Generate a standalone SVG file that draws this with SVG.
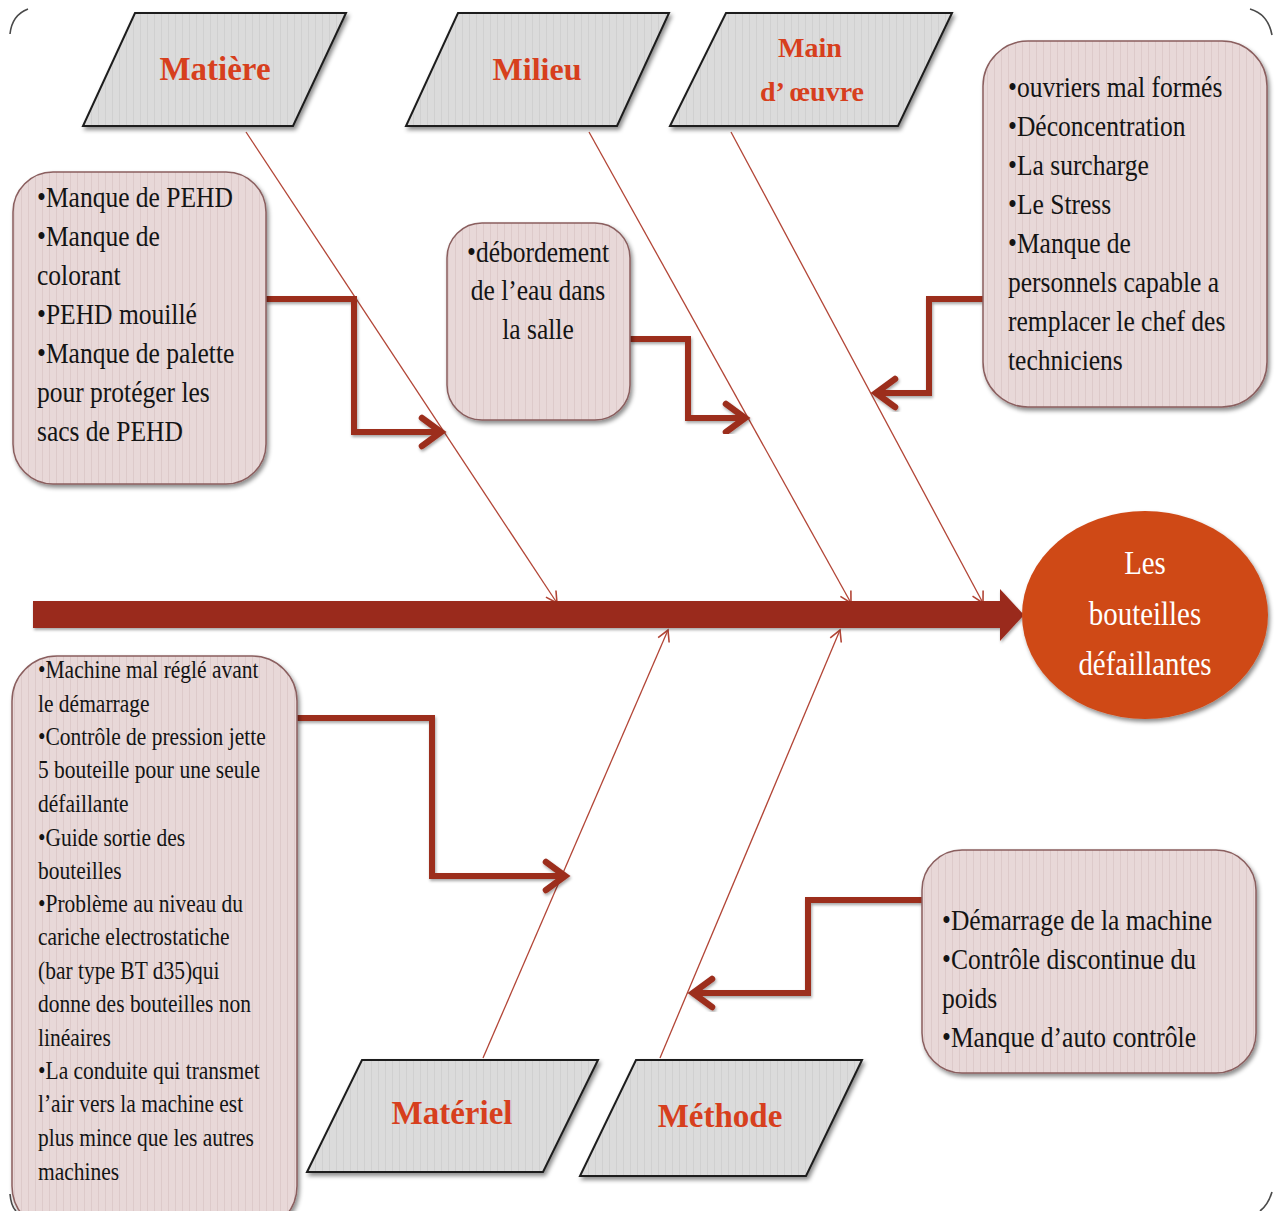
<svg xmlns="http://www.w3.org/2000/svg" width="1276" height="1211" viewBox="0 0 1276 1211">
<style>
.para{stroke:#1e1e1e;stroke-width:2;fill:url(#grayStripe);filter:url(#shadow)}
.box{stroke:#8a5e5e;stroke-width:1.5;fill:url(#pinkStripe);filter:url(#shadow)}
.ptxt{font-family:"Liberation Serif",serif;font-weight:bold;fill:#d73f1d;text-anchor:middle}
.btxt{font-family:"Liberation Serif",serif;fill:#141414}
.thin{stroke:#b24536;stroke-width:1.3;fill:none;marker-end:url(#thinArrow)}
.thick{stroke:#9c2e1f;stroke-width:6;fill:none;stroke-linejoin:miter;marker-end:url(#thickArrow);filter:url(#lshadow)}
.frame{stroke:#4a4a4a;stroke-width:1.6;fill:none}
.etxt{font-family:"Liberation Serif",serif;fill:#ffffff;text-anchor:middle}
</style>
<defs>
<pattern id="grayStripe" patternUnits="userSpaceOnUse" width="7" height="10">
<rect width="7" height="10" fill="#dbdbdb"/>
<rect x="0" width="1" height="10" fill="#d0d0d0"/>
</pattern>
<pattern id="pinkStripe" patternUnits="userSpaceOnUse" width="7" height="10">
<rect width="7" height="10" fill="#e8d8d8"/>
<rect x="0" width="1" height="10" fill="#ddcaca"/>
</pattern>
<filter id="shadow" x="-10%" y="-10%" width="125%" height="125%">
<feDropShadow dx="2" dy="3" stdDeviation="2" flood-color="#000" flood-opacity="0.45"/>
</filter>
<filter id="lshadow" x="-10%" y="-10%" width="130%" height="130%">
<feDropShadow dx="1" dy="2" stdDeviation="1.5" flood-color="#000" flood-opacity="0.35"/>
</filter>
<marker id="thinArrow" markerUnits="userSpaceOnUse" markerWidth="20" markerHeight="20" viewBox="-14 -10 20 20" refX="0" refY="0" orient="auto">
<path d="M-11,-6 L0,0 L-11,6" fill="none" stroke="#b24536" stroke-width="1.6"/>
</marker>
<marker id="thickArrow" markerUnits="userSpaceOnUse" markerWidth="40" markerHeight="40" viewBox="-30 -20 40 40" refX="0" refY="0" orient="auto">
<path d="M-20,-14 L-1,0 L-20,14" fill="none" stroke="#9c2e1f" stroke-width="6.5" stroke-linecap="round" stroke-linejoin="miter"/>
</marker>
</defs>

<g id="frame">
<path class="frame" d="M10,34 Q12,15 28,9"/>
<path class="frame" d="M1250,9 Q1268,14 1272,35"/>
<path class="frame" d="M10,1194 Q11,1206 16,1211"/>
<path class="frame" d="M1272,1192 Q1268,1205 1260,1211"/>
</g>

<g id="connectors">
<path class="thin" d="M246,132 L557,603"/>
<path class="thin" d="M589,132 L851,603"/>
<path class="thin" d="M731,132 L983,603"/>
<path class="thin" d="M483,1058 L668,630"/>
<path class="thin" d="M660,1058 L840,630"/>
<path class="thick" d="M266,299 L354,299 L354,432 L442,432"/>
<path class="thick" d="M630,339 L688,339 L688,418 L746,418"/>
<path class="thick" d="M983,299 L929,299 L929,393 L875,393"/>
<path class="thick" d="M297,718 L432,718 L432,876 L566,876"/>
<path class="thick" d="M922,900 L808,900 L808,993 L692,993"/>
</g>

<g id="spine">
<polygon points="33,601 1000,601 1000,589 1024,615 1000,641 1000,628 33,628" fill="#9a2b1e" filter="url(#lshadow)"/>
</g>

<g id="effect">
<ellipse cx="1145" cy="615" rx="123" ry="104" fill="#cf4a19" filter="url(#shadow)"/>
<g transform="translate(1145,0) scale(0.85,1)">
<text class="etxt" x="0" y="574" font-size="34">Les</text>
<text class="etxt" x="0" y="625" font-size="34">bouteilles</text>
<text class="etxt" x="0" y="675" font-size="34">défaillantes</text>
</g>
</g>

<g id="matiere">
<polygon class="para" points="135,13 346,13 293,126 83,126"/>
<text class="ptxt" x="215" y="80" font-size="33">Matière</text>
</g>
<g id="milieu">
<polygon class="para" points="458,13 669,13 617,126 406,126"/>
<text class="ptxt" x="537" y="80" font-size="32">Milieu</text>
</g>
<g id="main-oeuvre">
<polygon class="para" points="726,13 952,13 898,126 670,126"/>
<text class="ptxt" x="810" y="57" font-size="28">Main</text>
<text class="ptxt" x="812" y="101" font-size="28">d’ œuvre</text>
</g>
<g id="materiel">
<polygon class="para" points="362,1060 598,1060 543,1172 307,1172"/>
<text class="ptxt" x="452" y="1124" font-size="33">Matériel</text>
</g>
<g id="methode">
<polygon class="para" points="636,1060 862,1060 806,1176 580,1176"/>
<text class="ptxt" x="720" y="1127" font-size="33">Méthode</text>
</g>

<g id="box-matiere">
<rect class="box" x="13" y="172" width="253" height="312" rx="40"/>
<g transform="translate(37,0) scale(0.88,1)">
<text class="btxt" x="0" y="207" font-size="29">•Manque de PEHD</text>
<text class="btxt" x="0" y="246" font-size="29">•Manque de</text>
<text class="btxt" x="0" y="285" font-size="29">colorant</text>
<text class="btxt" x="0" y="324" font-size="29">•PEHD mouillé</text>
<text class="btxt" x="0" y="363" font-size="29">•Manque de palette</text>
<text class="btxt" x="0" y="402" font-size="29">pour protéger les</text>
<text class="btxt" x="0" y="441" font-size="29">sacs de PEHD</text>
</g>
</g>

<g id="box-milieu">
<rect class="box" x="447" y="223" width="183" height="197" rx="35"/>
<g transform="translate(538,0) scale(0.88,1)">
<text class="btxt" x="0" y="262" font-size="29" text-anchor="middle">•débordement</text>
<text class="btxt" x="0" y="300" font-size="29" text-anchor="middle">de l’eau dans</text>
<text class="btxt" x="0" y="339" font-size="29" text-anchor="middle">la salle</text>
</g>
</g>

<g id="box-main-oeuvre">
<rect class="box" x="983" y="41" width="284" height="366" rx="45"/>
<g transform="translate(1008,0) scale(0.88,1)">
<text class="btxt" x="0" y="97" font-size="29">•ouvriers mal formés</text>
<text class="btxt" x="0" y="136" font-size="29">•Déconcentration</text>
<text class="btxt" x="0" y="175" font-size="29">•La surcharge</text>
<text class="btxt" x="0" y="214" font-size="29">•Le Stress</text>
<text class="btxt" x="0" y="253" font-size="29">•Manque de</text>
<text class="btxt" x="0" y="292" font-size="29">personnels capable a</text>
<text class="btxt" x="0" y="331" font-size="29">remplacer le chef des</text>
<text class="btxt" x="0" y="370" font-size="29">techniciens</text>
</g>
</g>

<g id="box-materiel">
<rect class="box" x="12" y="656" width="285" height="575" rx="45"/>
<g transform="translate(38,0) scale(0.86,1)">
<text class="btxt" x="0" y="678" font-size="25">•Machine mal réglé avant</text>
<text class="btxt" x="0" y="712" font-size="25">le démarrage</text>
<text class="btxt" x="0" y="745" font-size="25">•Contrôle de pression jette</text>
<text class="btxt" x="0" y="778" font-size="25">5 bouteille pour une seule</text>
<text class="btxt" x="0" y="812" font-size="25">défaillante</text>
<text class="btxt" x="0" y="846" font-size="25">•Guide sortie des</text>
<text class="btxt" x="0" y="879" font-size="25">bouteilles</text>
<text class="btxt" x="0" y="912" font-size="25">•Problème au niveau du</text>
<text class="btxt" x="0" y="945" font-size="25">cariche electrostatiche</text>
<text class="btxt" x="0" y="979" font-size="25">(bar type BT  d35)qui</text>
<text class="btxt" x="0" y="1012" font-size="25">donne des bouteilles  non</text>
<text class="btxt" x="0" y="1046" font-size="25">linéaires</text>
<text class="btxt" x="0" y="1079" font-size="25">•La conduite qui transmet</text>
<text class="btxt" x="0" y="1112" font-size="25">l’air vers la machine  est</text>
<text class="btxt" x="0" y="1146" font-size="25">plus mince  que  les autres</text>
<text class="btxt" x="0" y="1180" font-size="25">machines</text>
</g>
</g>

<g id="box-methode">
<rect class="box" x="922" y="850" width="334" height="223" rx="40"/>
<g transform="translate(942,0) scale(0.88,1)">
<text class="btxt" x="0" y="930" font-size="29">•Démarrage de la machine</text>
<text class="btxt" x="0" y="969" font-size="29">•Contrôle discontinue du</text>
<text class="btxt" x="0" y="1008" font-size="29">poids</text>
<text class="btxt" x="0" y="1047" font-size="29">•Manque d’auto contrôle</text>
</g>
</g>
</svg>
